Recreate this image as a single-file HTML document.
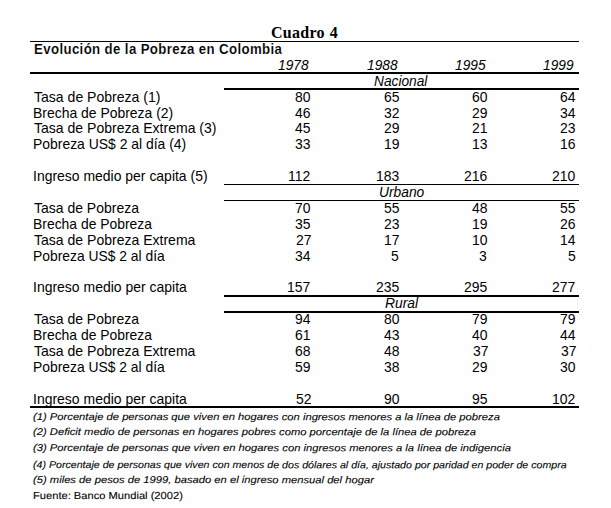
<!DOCTYPE html>
<html><head><meta charset="utf-8"><title>Cuadro 4</title>
<style>
html,body{margin:0;padding:0;background:#fff;}
body{width:611px;height:508px;position:relative;overflow:hidden;font-family:"Liberation Sans",sans-serif;color:#000;}
.t{position:absolute;white-space:nowrap;line-height:20px;transform-origin:0 0;}
.serif{font-family:"Liberation Serif",serif;}
.b{font-weight:bold;}
.hb{letter-spacing:0.4px;-webkit-text-stroke:0.14px #fff;}
.i{font-style:italic;}
.ls{letter-spacing:0.3px;word-spacing:0.6px;}
.nt{-webkit-text-stroke:0.1px #000;}
.l{position:absolute;background:#000;}
</style></head><body>
<div class="t serif b ls" style="left:271.31px;top:23.00px;font-size:16.2px;transform:scaleX(0.9879);">Cuadro 4</div>
<div class="t b hb" style="left:33.69px;top:39.00px;font-size:14.6px;transform:scaleX(0.9077);">Evolución de la Pobreza en Colombia</div>
<div class="t i" style="left:278.20px;top:55.00px;font-size:14.6px;transform:scaleX(0.9406);">1978</div>
<div class="t i" style="left:366.70px;top:55.00px;font-size:14.6px;transform:scaleX(0.9406);">1988</div>
<div class="t i" style="left:455.00px;top:55.00px;font-size:14.6px;transform:scaleX(0.9437);">1995</div>
<div class="t i" style="left:543.30px;top:55.00px;font-size:14.6px;transform:scaleX(0.9406);">1999</div>
<div class="t i" style="left:373.76px;top:71.00px;font-size:14.6px;transform:scaleX(0.9393);">Nacional</div>
<div class="t " style="left:33.90px;top:87.00px;font-size:14.6px;transform:scaleX(0.9626);">Tasa de Pobreza (1)</div>
<div class="t " style="left:295.12px;top:87.00px;font-size:14.6px;transform:scaleX(0.9550);">80</div>
<div class="t " style="left:383.52px;top:87.00px;font-size:14.6px;transform:scaleX(0.9550);">65</div>
<div class="t " style="left:471.72px;top:87.00px;font-size:14.6px;transform:scaleX(0.9550);">60</div>
<div class="t " style="left:559.92px;top:87.00px;font-size:14.6px;transform:scaleX(0.9550);">64</div>
<div class="t " style="left:32.94px;top:103.00px;font-size:14.6px;transform:scaleX(0.9552);">Brecha de Pobreza (2)</div>
<div class="t " style="left:295.12px;top:103.00px;font-size:14.6px;transform:scaleX(0.9550);">46</div>
<div class="t " style="left:384.48px;top:103.00px;font-size:14.6px;transform:scaleX(0.9550);">32</div>
<div class="t " style="left:471.72px;top:103.00px;font-size:14.6px;transform:scaleX(0.9550);">29</div>
<div class="t " style="left:559.92px;top:103.00px;font-size:14.6px;transform:scaleX(0.9550);">34</div>
<div class="t " style="left:33.90px;top:118.00px;font-size:14.6px;transform:scaleX(0.9614);">Tasa de Pobreza Extrema (3)</div>
<div class="t " style="left:295.12px;top:118.00px;font-size:14.6px;transform:scaleX(0.9550);">45</div>
<div class="t " style="left:383.52px;top:118.00px;font-size:14.6px;transform:scaleX(0.9550);">29</div>
<div class="t " style="left:471.72px;top:118.00px;font-size:14.6px;transform:scaleX(0.9550);">21</div>
<div class="t " style="left:559.92px;top:118.00px;font-size:14.6px;transform:scaleX(0.9550);">23</div>
<div class="t " style="left:32.95px;top:134.00px;font-size:14.6px;transform:scaleX(0.9541);">Pobreza US$ 2 al día (4)</div>
<div class="t " style="left:295.12px;top:134.00px;font-size:14.6px;transform:scaleX(0.9550);">33</div>
<div class="t " style="left:383.52px;top:134.00px;font-size:14.6px;transform:scaleX(0.9550);">19</div>
<div class="t " style="left:471.72px;top:134.00px;font-size:14.6px;transform:scaleX(0.9550);">13</div>
<div class="t " style="left:559.92px;top:134.00px;font-size:14.6px;transform:scaleX(0.9550);">16</div>
<div class="t " style="left:32.94px;top:166.00px;font-size:14.6px;transform:scaleX(0.9564);">Ingreso medio per capita (5)</div>
<div class="t " style="left:288.44px;top:166.00px;font-size:14.6px;transform:scaleX(0.9550);">112</div>
<div class="t " style="left:375.88px;top:166.00px;font-size:14.6px;transform:scaleX(0.9550);">183</div>
<div class="t " style="left:464.08px;top:166.00px;font-size:14.6px;transform:scaleX(0.9550);">216</div>
<div class="t " style="left:552.28px;top:166.00px;font-size:14.6px;transform:scaleX(0.9550);">210</div>
<div class="t i" style="left:378.55px;top:182.00px;font-size:14.6px;transform:scaleX(0.9457);">Urbano</div>
<div class="t " style="left:33.90px;top:198.00px;font-size:14.6px;transform:scaleX(0.9582);">Tasa de Pobreza</div>
<div class="t " style="left:295.12px;top:198.00px;font-size:14.6px;transform:scaleX(0.9550);">70</div>
<div class="t " style="left:383.52px;top:198.00px;font-size:14.6px;transform:scaleX(0.9550);">55</div>
<div class="t " style="left:471.72px;top:198.00px;font-size:14.6px;transform:scaleX(0.9550);">48</div>
<div class="t " style="left:559.92px;top:198.00px;font-size:14.6px;transform:scaleX(0.9550);">55</div>
<div class="t " style="left:32.95px;top:214.00px;font-size:14.6px;transform:scaleX(0.9524);">Brecha de Pobreza</div>
<div class="t " style="left:295.12px;top:214.00px;font-size:14.6px;transform:scaleX(0.9550);">35</div>
<div class="t " style="left:383.52px;top:214.00px;font-size:14.6px;transform:scaleX(0.9550);">23</div>
<div class="t " style="left:471.72px;top:214.00px;font-size:14.6px;transform:scaleX(0.9550);">19</div>
<div class="t " style="left:559.92px;top:214.00px;font-size:14.6px;transform:scaleX(0.9550);">26</div>
<div class="t " style="left:33.90px;top:230.00px;font-size:14.6px;transform:scaleX(0.9613);">Tasa de Pobreza Extrema</div>
<div class="t " style="left:296.07px;top:230.00px;font-size:14.6px;transform:scaleX(0.9550);">27</div>
<div class="t " style="left:384.48px;top:230.00px;font-size:14.6px;transform:scaleX(0.9550);">17</div>
<div class="t " style="left:471.72px;top:230.00px;font-size:14.6px;transform:scaleX(0.9550);">10</div>
<div class="t " style="left:559.92px;top:230.00px;font-size:14.6px;transform:scaleX(0.9550);">14</div>
<div class="t " style="left:32.95px;top:246.00px;font-size:14.6px;transform:scaleX(0.9500);">Pobreza US$ 2 al día</div>
<div class="t " style="left:295.12px;top:246.00px;font-size:14.6px;transform:scaleX(0.9550);">34</div>
<div class="t " style="left:391.16px;top:246.00px;font-size:14.6px;transform:scaleX(0.9550);">5</div>
<div class="t " style="left:479.36px;top:246.00px;font-size:14.6px;transform:scaleX(0.9550);">3</div>
<div class="t " style="left:567.56px;top:246.00px;font-size:14.6px;transform:scaleX(0.9550);">5</div>
<div class="t " style="left:32.94px;top:277.00px;font-size:14.6px;transform:scaleX(0.9575);">Ingreso medio per capita</div>
<div class="t " style="left:287.48px;top:277.00px;font-size:14.6px;transform:scaleX(0.9550);">157</div>
<div class="t " style="left:375.88px;top:277.00px;font-size:14.6px;transform:scaleX(0.9550);">235</div>
<div class="t " style="left:464.08px;top:277.00px;font-size:14.6px;transform:scaleX(0.9550);">295</div>
<div class="t " style="left:552.28px;top:277.00px;font-size:14.6px;transform:scaleX(0.9550);">277</div>
<div class="t i" style="left:385.35px;top:293.00px;font-size:14.6px;transform:scaleX(0.9471);">Rural</div>
<div class="t " style="left:33.90px;top:309.00px;font-size:14.6px;transform:scaleX(0.9582);">Tasa de Pobreza</div>
<div class="t " style="left:295.12px;top:309.00px;font-size:14.6px;transform:scaleX(0.9550);">94</div>
<div class="t " style="left:383.52px;top:309.00px;font-size:14.6px;transform:scaleX(0.9550);">80</div>
<div class="t " style="left:471.72px;top:309.00px;font-size:14.6px;transform:scaleX(0.9550);">79</div>
<div class="t " style="left:559.92px;top:309.00px;font-size:14.6px;transform:scaleX(0.9550);">79</div>
<div class="t " style="left:32.95px;top:325.00px;font-size:14.6px;transform:scaleX(0.9524);">Brecha de Pobreza</div>
<div class="t " style="left:295.12px;top:325.00px;font-size:14.6px;transform:scaleX(0.9550);">61</div>
<div class="t " style="left:383.52px;top:325.00px;font-size:14.6px;transform:scaleX(0.9550);">43</div>
<div class="t " style="left:471.72px;top:325.00px;font-size:14.6px;transform:scaleX(0.9550);">40</div>
<div class="t " style="left:559.92px;top:325.00px;font-size:14.6px;transform:scaleX(0.9550);">44</div>
<div class="t " style="left:33.90px;top:341.00px;font-size:14.6px;transform:scaleX(0.9613);">Tasa de Pobreza Extrema</div>
<div class="t " style="left:295.12px;top:341.00px;font-size:14.6px;transform:scaleX(0.9550);">68</div>
<div class="t " style="left:383.52px;top:341.00px;font-size:14.6px;transform:scaleX(0.9550);">48</div>
<div class="t " style="left:472.68px;top:341.00px;font-size:14.6px;transform:scaleX(0.9550);">37</div>
<div class="t " style="left:560.88px;top:341.00px;font-size:14.6px;transform:scaleX(0.9550);">37</div>
<div class="t " style="left:32.95px;top:357.00px;font-size:14.6px;transform:scaleX(0.9500);">Pobreza US$ 2 al día</div>
<div class="t " style="left:295.12px;top:357.00px;font-size:14.6px;transform:scaleX(0.9550);">59</div>
<div class="t " style="left:383.52px;top:357.00px;font-size:14.6px;transform:scaleX(0.9550);">38</div>
<div class="t " style="left:471.72px;top:357.00px;font-size:14.6px;transform:scaleX(0.9550);">29</div>
<div class="t " style="left:559.92px;top:357.00px;font-size:14.6px;transform:scaleX(0.9550);">30</div>
<div class="t " style="left:32.94px;top:389.00px;font-size:14.6px;transform:scaleX(0.9575);">Ingreso medio per capita</div>
<div class="t " style="left:296.07px;top:389.00px;font-size:14.6px;transform:scaleX(0.9550);">52</div>
<div class="t " style="left:383.52px;top:389.00px;font-size:14.6px;transform:scaleX(0.9550);">90</div>
<div class="t " style="left:471.72px;top:389.00px;font-size:14.6px;transform:scaleX(0.9550);">95</div>
<div class="t " style="left:552.28px;top:389.00px;font-size:14.6px;transform:scaleX(0.9550);">102</div>
<div class="t i nt" style="left:33.30px;top:407.30px;font-size:9.9px;transform-origin:0 13px;transform:rotate(0.03deg) scale(1.1355,1.0001);">(1) Porcentaje de personas que viven en hogares con ingresos menores a la línea de pobreza</div>
<div class="t i nt" style="left:33.30px;top:422.20px;font-size:9.9px;transform-origin:0 13px;transform:rotate(0.03deg) scale(1.1349,1.0001);">(2) Deficit medio de personas en hogares pobres como porcentaje de la línea de pobreza</div>
<div class="t i nt" style="left:33.30px;top:438.20px;font-size:9.9px;transform-origin:0 13px;transform:rotate(0.03deg) scale(1.1381,1.0001);">(3) Porcentaje de personas que viven en hogares con ingresos menores a la línea de indigencia</div>
<div class="t i nt" style="left:33.30px;top:455.00px;font-size:9.9px;transform-origin:0 13px;transform:rotate(0.03deg) scale(1.0752,1.0001);">(4) Porcentaje de personas que viven con menos de dos dólares al día, ajustado por paridad en poder de compra</div>
<div class="t i nt" style="left:33.30px;top:470.40px;font-size:9.9px;transform-origin:0 13px;transform:rotate(0.03deg) scale(1.1352,1.0001);">(5) miles de pesos de 1999, basado en el ingreso mensual del hogar</div>
<div class="t nt" style="left:33.21px;top:486.20px;font-size:10.2px;transform-origin:0 13px;transform:rotate(0.03deg) scale(1.0934,1.0001);">Fuente: Banco Mundial (2002)</div>
<div class="l" style="left:30px;top:41px;width:549px;height:1px"></div>
<div class="l" style="left:30px;top:72px;width:549px;height:2px"></div>
<div class="l" style="left:224px;top:88px;width:355px;height:2px"></div>
<div class="l" style="left:224px;top:184px;width:355px;height:1px"></div>
<div class="l" style="left:224px;top:200px;width:355px;height:1px"></div>
<div class="l" style="left:224px;top:295px;width:355px;height:2px"></div>
<div class="l" style="left:224px;top:311px;width:355px;height:2px"></div>
<div class="l" style="left:30px;top:406px;width:549px;height:2px"></div>
</body></html>
